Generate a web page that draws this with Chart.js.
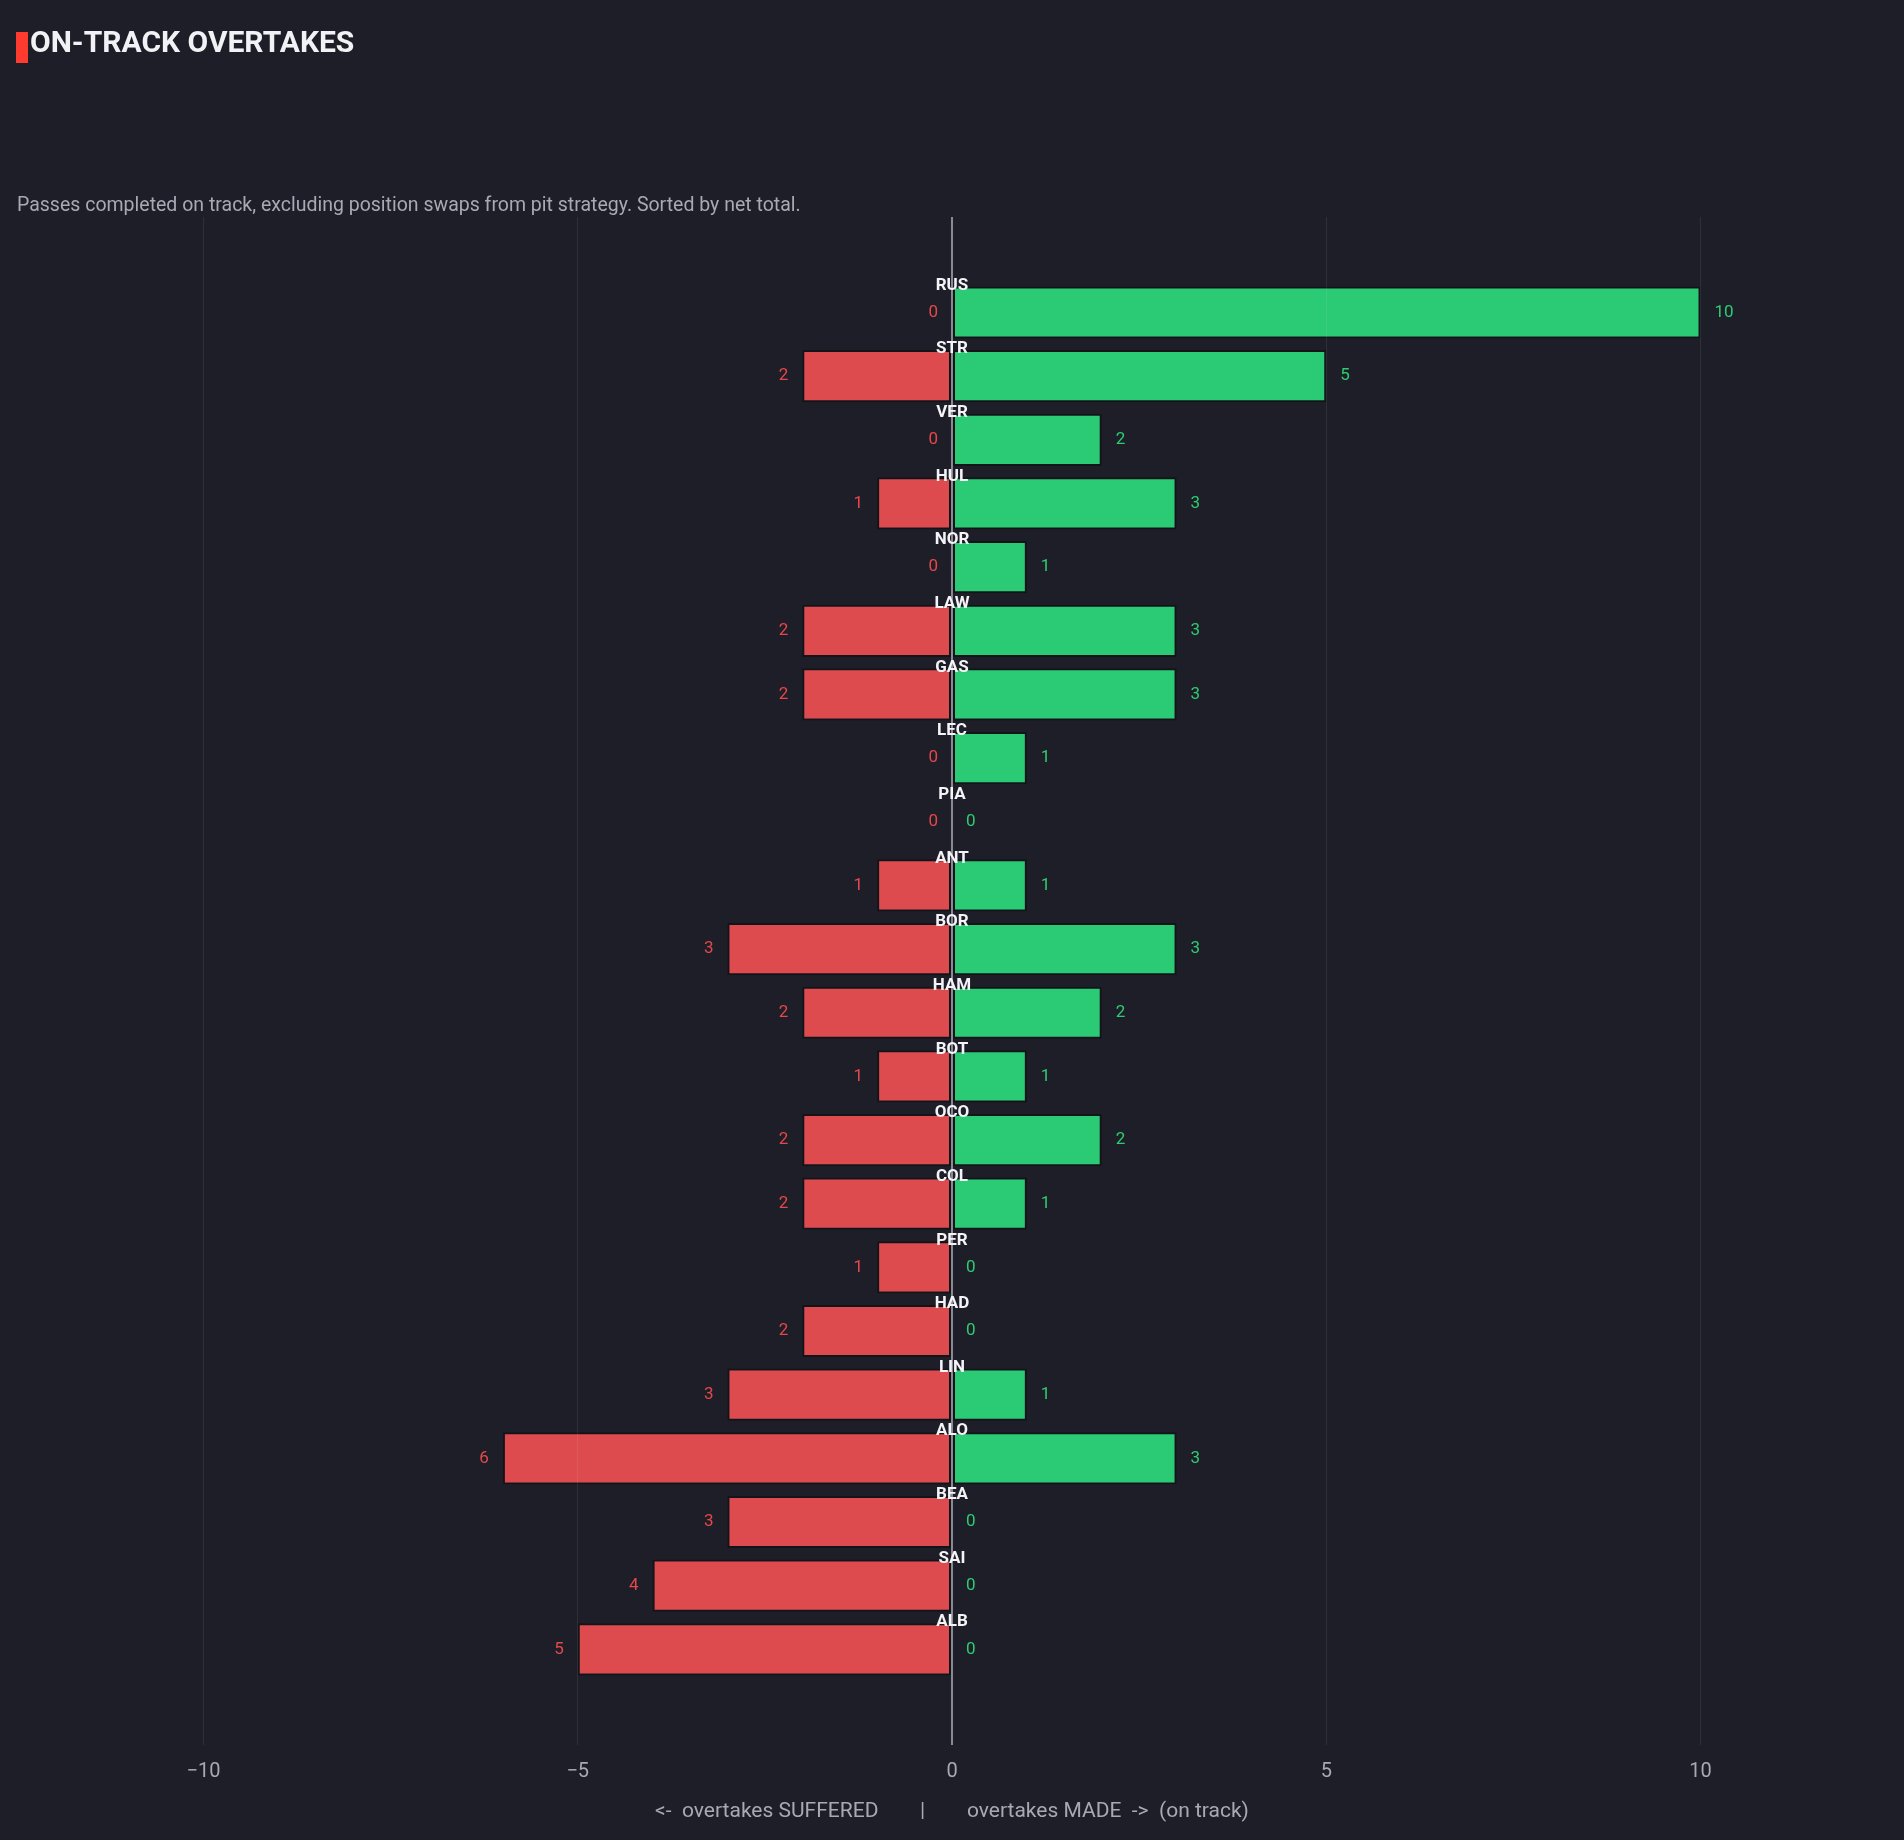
<!DOCTYPE html>
<html><head><meta charset="utf-8">
<script src="https://cdn.jsdelivr.net/npm/chart.js@4.4.1/dist/chart.umd.min.js"></script>
<style>html,body{margin:0;padding:0;background:#1e1e28;overflow:hidden}canvas{display:block}</style>
</head><body>
<canvas id="c" width="1904" height="1840"></canvas>
<script>
const drivers = ['RUS','STR','VER','HUL','NOR','LAW','GAS','LEC','PIA','ANT','BOR','HAM','BOT','OCO','COL','PER','HAD','LIN','ALO','BEA','SAI','ALB'];
const made     = [10, 5, 2, 3, 1, 3, 3, 1, 0, 1, 3, 2, 1, 2, 1, 0, 0, 1, 3, 0, 0, 0];
const suffered = [ 0, 2, 0, 1, 0, 2, 2, 0, 0, 1, 3, 2, 1, 2, 2, 1, 2, 3, 6, 3, 4, 5];
const tickValues = [-10, -5, 0, 5, 10];
const titleText = 'ON-TRACK OVERTAKES';
const subtitleText = 'Passes completed on track, excluding position swaps from pit strategy. Sorted by net total.';
const axisTitle = '<-  overtakes SUFFERED        |        overtakes MADE  ->  (on track)';

const FONT = 'Roboto, "Open Sans", "DejaVu Sans", sans-serif';
const RED = '#dd4b4e', GREEN = '#2bca74';
const RED_TXT = '#e5484b', GREEN_TXT = '#2ecc71';

// padded table for the category scale (one blank slot above and below)
const labels = [''].concat(drivers, ['']);
const madeData = [null].concat(made, [null]);
const sufferedData = [null].concat(suffered.map(v => -v), [null]);

const textPlugin = {
  id: 'texts',
  beforeDraw(chart) {
    const ctx = chart.ctx;
    ctx.save();
    ctx.fillStyle = '#1e1e28';
    ctx.fillRect(0, 0, chart.width, chart.height);
    ctx.restore();
  },
  afterDraw(chart) {
    const ctx = chart.ctx;
    const xs = chart.scales.x, ys = chart.scales.y;
    ctx.save();
    // title
    ctx.fillStyle = '#ff3b30';
    ctx.fillRect(16, 32, 12, 31);
    ctx.fillStyle = '#f2f2f6';
    ctx.font = 'bold 30px ' + FONT;
    ctx.textAlign = 'left';
    ctx.textBaseline = 'alphabetic';
    ctx.fillText(titleText, 30, 52);
    // subtitle
    ctx.fillStyle = '#a9a9b6';
    ctx.font = '19.5px ' + FONT;
    ctx.fillText(subtitleText, 17, 211);
    // per-row labels
    const m1 = chart.getDatasetMeta(1);
    drivers.forEach((d, i) => {
      const idx = i + 1;
      const cy = ys.getPixelForValue(idx);
      const barTop = m1.data[idx].y - m1.data[idx].height / 2;
      ctx.font = 'bold 17px ' + FONT;
      ctx.fillStyle = '#f4f4f8';
      ctx.textAlign = 'center';
      ctx.textBaseline = 'middle';
      ctx.fillText(d, xs.getPixelForValue(0), barTop - 1);
      ctx.font = '17px ' + FONT;
      ctx.fillStyle = RED_TXT;
      ctx.textAlign = 'right';
      ctx.fillText(String(suffered[i]), xs.getPixelForValue(-suffered[i]) - 14, cy);
      ctx.fillStyle = GREEN_TXT;
      ctx.textAlign = 'left';
      ctx.fillText(String(made[i]), xs.getPixelForValue(made[i]) + 14, cy);
    });
    ctx.restore();
  }
};

new Chart(document.getElementById('c'), {
  type: 'bar',
  data: {
    labels: labels,
    datasets: [
      { label: 'suffered', data: sufferedData, backgroundColor: RED, borderColor: 'rgba(18,18,24,0.9)', borderWidth: 2, borderSkipped: false },
      { label: 'made', data: madeData, backgroundColor: GREEN, borderColor: 'rgba(18,18,24,0.9)', borderWidth: 2, borderSkipped: false }
    ]
  },
  options: {
    indexAxis: 'y',
    responsive: false,
    animation: false,
    layout: { padding: { left: 16, right: 16, top: 217, bottom: 12 } },
    datasets: { bar: { barPercentage: 0.82, categoryPercentage: 1.0 } },
    plugins: { legend: { display: false }, tooltip: { enabled: false }, title: { display: false } },
    scales: {
      x: {
        type: 'linear',
        min: -12.505, max: 12.505,
        stacked: true,
        afterBuildTicks: (s) => { s.ticks = tickValues.map(v => ({ value: v })); },
        grid: {
          z: 1,
          drawTicks: false,
          color: (c) => c.tick && c.tick.value === 0 ? 'rgba(150,150,160,0.9)' : 'rgba(255,255,255,0.08)',
          lineWidth: (c) => c.tick && c.tick.value === 0 ? 2 : 1
        },
        border: { display: false },
        ticks: {
          padding: 15,
          color: '#a9a9b6',
          font: { family: FONT, size: 20 },
          callback: (v) => v < 0 ? '\u2212' + Math.abs(v) : String(v)
        },
        title: {
          display: true,
          text: axisTitle,
          color: '#a9a9b6',
          font: { family: FONT, size: 21 },
          padding: { top: 0, bottom: 4 }
        }
      },
      y: {
        type: 'category',
        stacked: true,
        display: false,
        grid: { display: false }
      }
    }
  },
  plugins: [textPlugin]
});
</script>
</body></html>
